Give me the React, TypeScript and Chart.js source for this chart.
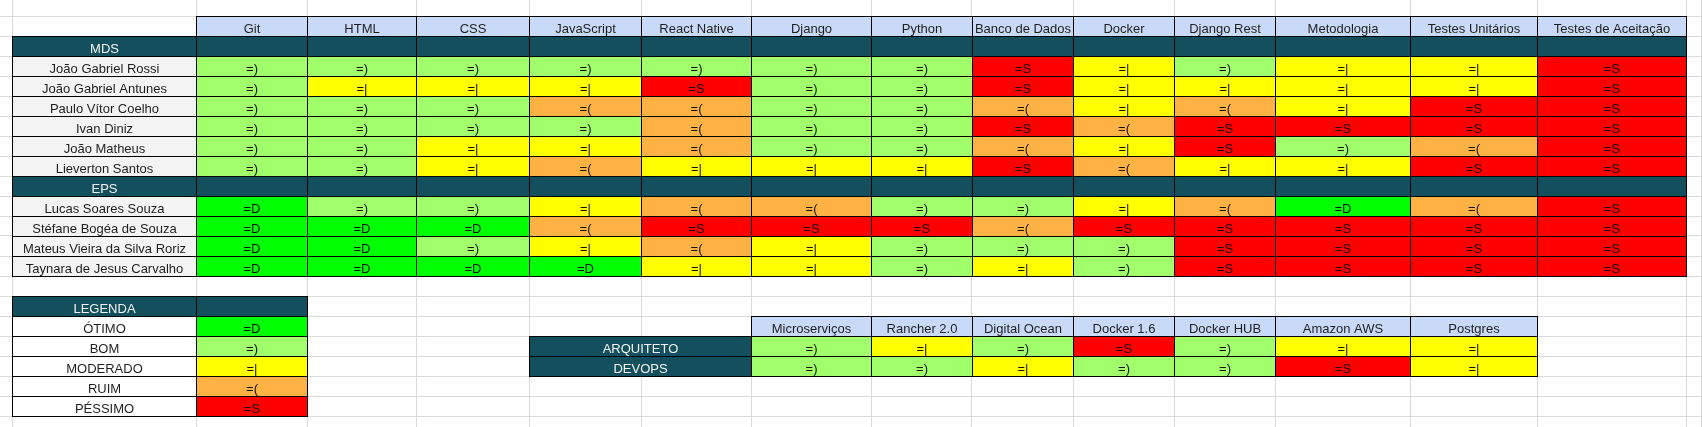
import React, { useEffect, useRef } from "react";
import { Chart, registerables } from "chart.js";

Chart.register(...registerables);

// ---------------- DATA ----------------
const skills = [
  "Git",
  "HTML",
  "CSS",
  "JavaScript",
  "React Native",
  "Django",
  "Python",
  "Banco de Dados",
  "Docker",
  "Django Rest",
  "Metodologia",
  "Testes Unitários",
  "Testes de Aceitação",
];

// level: 0 = PÉSSIMO, 1 = RUIM, 2 = MODERADO, 3 = BOM, 4 = ÓTIMO
const levelLabels = ["PÉSSIMO", "RUIM", "MODERADO", "BOM", "ÓTIMO"];
const levelFaces = ["=S", "=(", "=|", "=)", "=D"];
const legendTitle = "LEGENDA";
const legendLevels = [4, 3, 2, 1, 0];

const mdsTitle = "MDS";
const mdsNames = [
  "João Gabriel Rossi",
  "João Gabriel Antunes",
  "Paulo Vítor Coelho",
  "Ivan Diniz",
  "João Matheus",
  "Lieverton Santos",
];
const mdsLevels = [
  [3, 3, 3, 3, 3, 3, 3, 0, 2, 3, 2, 2, 0],
  [3, 2, 2, 2, 0, 3, 3, 0, 2, 2, 2, 2, 0],
  [3, 3, 3, 1, 1, 3, 3, 1, 2, 1, 2, 0, 0],
  [3, 3, 3, 3, 1, 3, 3, 0, 1, 0, 0, 0, 0],
  [3, 3, 2, 2, 1, 3, 3, 1, 2, 0, 3, 1, 0],
  [3, 3, 2, 1, 2, 2, 2, 0, 1, 2, 2, 0, 0],
];

const epsTitle = "EPS";
const epsNames = [
  "Lucas Soares Souza",
  "Stéfane Bogéa de Souza",
  "Mateus Vieira da Silva Roriz",
  "Taynara de Jesus Carvalho",
];
const epsLevels = [
  [4, 3, 3, 2, 1, 1, 3, 3, 2, 1, 4, 1, 0],
  [4, 4, 4, 1, 0, 0, 0, 1, 0, 0, 0, 0, 0],
  [4, 4, 3, 2, 1, 2, 3, 3, 3, 0, 0, 0, 0],
  [4, 4, 4, 4, 2, 2, 3, 2, 3, 0, 0, 0, 0],
];

const tools = [
  "Microserviços",
  "Rancher 2.0",
  "Digital Ocean",
  "Docker 1.6",
  "Docker HUB",
  "Amazon AWS",
  "Postgres",
];
const roles = ["ARQUITETO", "DEVOPS"];
const roleLevels = [
  [3, 2, 3, 0, 3, 2, 2],
  [3, 3, 2, 3, 3, 0, 2],
];

// ---------------- LAYOUT / STYLE ----------------
const WIDTH = 1702;
const HEIGHT = 427;
// sheet column borders (in sheet pixels)
const COL_LINES = [12, 196, 307, 416, 529, 641, 751, 871, 972, 1073, 1174, 1275, 1410, 1537, 1686, 1701];
const ROW_ORIGIN = -4;
const ROW_H = 20;
const ROW_COUNT = 22;
const BORDER = 1;
const TEXT_BOTTOM_INSET = 4.5;
const TOOL_COL = 6;
const ROLE_COL_START = 4;
const ROLE_COL_END = 5;
const FONT = '13px "Liberation Sans", Arial, sans-serif';

const COLORS = {
  grid: "#dadada",
  border: "#000000",
  header: "#c9daf8",
  group: "#134f5c",
  name: "#f3f3f3",
  legendName: "#ffffff",
  text: "#1f1f1f",
  groupText: "#f3f3f3",
  cellText: "#111111",
};
const LEVEL_COLORS = ["#ff0000", "#ffb244", "#ffff00", "#a0ff6b", "#00ff00"];

const rowLine = (r: number) => ROW_ORIGIN + ROW_H * r;

type Cell = { c0: number; c1: number; row: number; bg: string; text: string; fg: string };
const cell = (c0: number, c1: number, row: number, bg: string, text: string, fg: string): Cell => ({
  c0,
  c1,
  row,
  bg,
  text,
  fg,
});

function groupCells(title: string, names: string[], levels: number[][], startRow: number): Cell[] {
  const cells: Cell[] = [cell(0, 0, startRow, COLORS.group, title, COLORS.groupText)];
  skills.forEach((_, i) => cells.push(cell(i + 1, i + 1, startRow, COLORS.group, "", COLORS.groupText)));
  names.forEach((n, r) => {
    const row = startRow + 1 + r;
    cells.push(cell(0, 0, row, COLORS.name, n, COLORS.text));
    levels[r].forEach((lv, i) =>
      cells.push(cell(i + 1, i + 1, row, LEVEL_COLORS[lv], levelFaces[lv], COLORS.cellText))
    );
  });
  return cells;
}

function buildSections() {
  const headerRow = 1;
  const mdsRow = headerRow + 1;
  const epsRow = mdsRow + 1 + mdsNames.length;
  const legendRow = epsRow + 1 + epsNames.length + 1;
  const toolRow = legendRow + 1;

  const header = skills.map((s, i) => cell(i + 1, i + 1, headerRow, COLORS.header, s, COLORS.text));
  const mds = groupCells(mdsTitle, mdsNames, mdsLevels, mdsRow);
  const eps = groupCells(epsTitle, epsNames, epsLevels, epsRow);

  const legend: Cell[] = [
    cell(0, 0, legendRow, COLORS.group, legendTitle, COLORS.groupText),
    cell(1, 1, legendRow, COLORS.group, "", COLORS.groupText),
  ];
  legendLevels.forEach((lv, i) => {
    legend.push(cell(0, 0, legendRow + 1 + i, COLORS.legendName, levelLabels[lv], COLORS.text));
    legend.push(cell(1, 1, legendRow + 1 + i, LEVEL_COLORS[lv], levelFaces[lv], COLORS.cellText));
  });

  const roleTable: Cell[] = tools.map((t, i) =>
    cell(TOOL_COL + i, TOOL_COL + i, toolRow, COLORS.header, t, COLORS.text)
  );
  roles.forEach((r, j) => {
    roleTable.push(cell(ROLE_COL_START, ROLE_COL_END, toolRow + 1 + j, COLORS.group, r, COLORS.groupText));
    roleLevels[j].forEach((lv, i) =>
      roleTable.push(
        cell(TOOL_COL + i, TOOL_COL + i, toolRow + 1 + j, LEVEL_COLORS[lv], levelFaces[lv], COLORS.cellText)
      )
    );
  });

  return [
    { label: "Cabeçalho", cells: header },
    { label: mdsTitle, cells: mds },
    { label: epsTitle, cells: eps },
    { label: legendTitle, cells: legend },
    { label: "Papéis", cells: roleTable },
  ];
}

function toDataset(label: string, cells: Cell[]) {
  return {
    label,
    data: cells.map((c) => ({
      x: [COL_LINES[c.c0], COL_LINES[c.c1 + 1] + BORDER],
      y: (rowLine(c.row) + rowLine(c.row + 1) + BORDER) / 2,
    })),
    backgroundColor: cells.map((c) => c.bg),
    borderColor: COLORS.border,
    borderWidth: BORDER,
    borderSkipped: false,
    borderRadius: 0,
    inflateAmount: 0,
    grouped: false,
    barThickness: ROW_H + BORDER,
    cellText: cells.map((c) => c.text),
    cellColor: cells.map((c) => c.fg),
  };
}

const whiteBg = {
  id: "whiteBg",
  beforeDraw(chart: any) {
    const ctx = chart.ctx;
    ctx.save();
    ctx.fillStyle = "#ffffff";
    ctx.fillRect(0, 0, chart.width, chart.height);
    ctx.restore();
  },
};

const cellTextPlugin = {
  id: "cellText",
  afterDatasetsDraw(chart: any) {
    const ctx = chart.ctx;
    ctx.save();
    ctx.font = FONT;
    ctx.textAlign = "center";
    ctx.textBaseline = "alphabetic";
    chart.data.datasets.forEach((ds: any, di: number) => {
      const meta = chart.getDatasetMeta(di);
      meta.data.forEach((el: any, i: number) => {
        const t = ds.cellText[i];
        if (!t) return;
        const { x, y, base, height } = el.getProps(["x", "y", "base", "height"], true);
        ctx.fillStyle = ds.cellColor[i];
        ctx.fillText(t, (x + base) / 2, y + height / 2 - TEXT_BOTTOM_INSET);
      });
    });
    ctx.restore();
  },
};

export default function App() {
  const ref = useRef<HTMLCanvasElement | null>(null);

  useEffect(() => {
    document.body.style.margin = "0";
    if (!ref.current) return;
    const sections = buildSections();
    const chart = new Chart(ref.current, {
      type: "bar",
      data: {
        datasets: sections.map((s) => toDataset(s.label, s.cells)) as any,
      },
      options: {
        animation: false,
        responsive: false,
        maintainAspectRatio: false,
        indexAxis: "y",
        events: [],
        layout: { padding: 0 },
        plugins: {
          legend: { display: false },
          tooltip: { enabled: false },
          title: { display: false },
        },
        scales: {
          x: {
            type: "linear",
            position: "top",
            min: 0,
            max: WIDTH,
            offset: false,
            grid: { color: COLORS.grid, lineWidth: 1, drawTicks: false, offset: false },
            border: { display: false },
            ticks: { display: false },
            afterBuildTicks: (scale: any) => {
              scale.ticks = COL_LINES.map((v) => ({ value: v }));
            },
          },
          y: {
            type: "linear",
            reverse: true,
            min: 0,
            max: HEIGHT,
            offset: false,
            grid: { color: COLORS.grid, lineWidth: 1, drawTicks: false, offset: false },
            border: { display: false },
            ticks: { display: false },
            afterBuildTicks: (scale: any) => {
              const t: { value: number }[] = [];
              for (let r = 1; r < ROW_COUNT; r++) t.push({ value: rowLine(r) });
              scale.ticks = t;
            },
          },
        },
      } as any,
      plugins: [whiteBg, cellTextPlugin],
    });
    return () => chart.destroy();
  }, []);

  return (
    <div style={{ width: WIDTH, height: HEIGHT }}>
      <canvas
        ref={ref}
        width={WIDTH}
        height={HEIGHT}
        style={{ display: "block", width: WIDTH, height: HEIGHT }}
      />
    </div>
  );
}
